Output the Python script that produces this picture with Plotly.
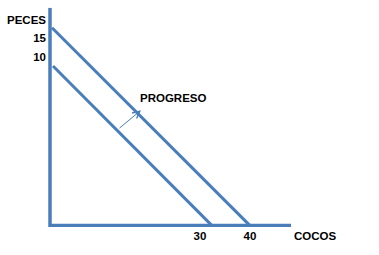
import plotly.graph_objects as go

# Data (in "cocos" x "peces" units of the sketch)
outer_x = [0.4, 40.0]
outer_y = [15.0, 0.0]
inner_x = [0.6, 32.4]
inner_y = [12.1, 0.0]
yaxis_x = [0.0, 0.0]
yaxis_y = [-0.1, 16.5]
xaxis_x = [0.0, 48.2]
xaxis_y = [0.0, 0.0]
arrow_from = (13.6, 7.3)
arrow_to = (18.2, 8.75)
progreso_pos = (24.6, 9.65)

x_tickvals = [30, 40, 53]
x_ticktext = ["30", "40", "COCOS"]
y_tickvals = [15.55, 14.25, 12.75]
y_ticktext = ["PECES", "15", "10"]

blue = "#4a7ebb"
font = dict(family="Liberation Sans, Arial", size=11.5, color="black")
bold = lambda s: "<b>" + s + "</b>"

fig = go.Figure()
fig.add_trace(go.Scatter(x=yaxis_x, y=yaxis_y, mode="lines", line=dict(color=blue, width=3.5)))
fig.add_trace(go.Scatter(x=xaxis_x, y=xaxis_y, mode="lines", line=dict(color=blue, width=4)))
fig.add_trace(go.Scatter(x=outer_x, y=outer_y, mode="lines", line=dict(color=blue, width=3)))
fig.add_trace(go.Scatter(x=inner_x, y=inner_y, mode="lines", line=dict(color=blue, width=3)))

fig.add_annotation(x=arrow_to[0], y=arrow_to[1], ax=arrow_from[0], ay=arrow_from[1],
                   xref="x", yref="y", axref="x", ayref="y", showarrow=True,
                   arrowhead=5, arrowsize=1.4, arrowwidth=1, arrowcolor=blue, text="")
fig.add_annotation(x=progreso_pos[0], y=progreso_pos[1], xref="x", yref="y",
                   text=bold("PROGRESO"), showarrow=False, font=font)

fig.update_layout(
    width=379, height=255,
    margin=dict(l=47, r=29, t=0, b=28),
    paper_bgcolor="white", plot_bgcolor="white",
    showlegend=False,
    xaxis=dict(range=[-0.6, 60], showgrid=False, zeroline=False, showline=False,
               ticks="", tickvals=x_tickvals, ticktext=[bold(t) for t in x_ticktext],
               tickfont=font),
    yaxis=dict(range=[-0.1, 17.1], showgrid=False, zeroline=False, showline=False,
               ticks="", tickvals=y_tickvals, ticktext=[bold(t) for t in y_ticktext],
               tickfont=font),
)

fig.write_html("out.html")
